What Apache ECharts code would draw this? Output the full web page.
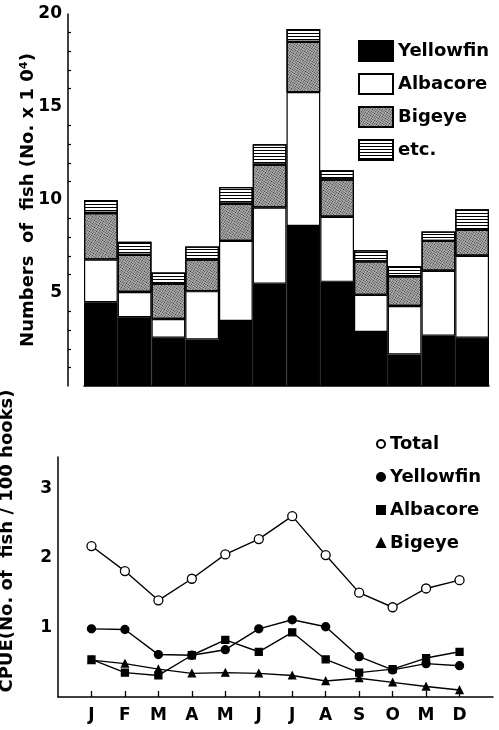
<!DOCTYPE html>
<html>
<head>
<meta charset="utf-8">
<script src="https://cdn.jsdelivr.net/npm/echarts@6/dist/echarts.min.js"></script>
<style>
  html, body { margin: 0; padding: 0; background: #fff; }
  #chart { width: 499px; height: 730px; }
</style>
</head>
<body>
<div id="chart"></div>
<script>
  // monthly catch (x10^4 fish), stacked
  var months = ["J", "F", "M", "A", "M", "J", "J", "A", "S", "O", "M", "D"];
  var yellowfin = [4.5, 3.7, 2.6, 2.5, 3.5, 5.5, 8.6, 5.6, 2.9, 1.7, 2.7, 2.6];
  var albacore = [2.3, 1.35, 1.0, 2.6, 4.3, 4.1, 7.2, 3.5, 2.0, 2.6, 3.5, 4.4];
  var bigeye = [2.5, 2.0, 1.9, 1.7, 2.0, 2.3, 2.7, 2.0, 1.8, 1.6, 1.6, 1.4];
  var etc = [0.7, 0.7, 0.6, 0.7, 0.9, 1.1, 0.7, 0.5, 0.6, 0.55, 0.5, 1.1];

  // CPUE (fish / 100 hooks)
  var cpueTotal = [2.17, 1.81, 1.39, 1.70, 2.05, 2.27, 2.60, 2.04, 1.50, 1.29, 1.56, 1.68];
  var cpueYellowfin = [0.98, 0.97, 0.61, 0.60, 0.68, 0.98, 1.11, 1.01, 0.58, 0.39, 0.48, 0.45];
  var cpueAlbacore = [0.54, 0.35, 0.31, 0.60, 0.82, 0.65, 0.93, 0.54, 0.35, 0.40, 0.56, 0.65];
  var cpueBigeye = [0.53, 0.48, 0.40, 0.34, 0.35, 0.34, 0.31, 0.23, 0.27, 0.21, 0.15, 0.10];

  var font = "DejaVu Sans";
  // bottom axis gets an empty slot at each end so J sits one step in from the axis
  var padded = function (a) { return [null].concat(a).concat([null]); };
  var lineMonths = [""].concat(months).concat([""]);

  var chart = echarts.init(document.getElementById("chart"));

  var barStyle = function (color, decal) {
    var s = { color: color, borderColor: "#000", borderWidth: 1.2 };
    if (decal) s.decal = decal;
    return s;
  };

  var lineSeries = function (name, data, symbol, size, fill) {
    return {
      name: name,
      type: "line",
      xAxisIndex: 1,
      yAxisIndex: 1,
      data: padded(data),
      symbol: symbol,
      symbolSize: size,
      showAllSymbol: true,
      lineStyle: { color: "#000", width: 1.4 },
      itemStyle: { color: fill, borderColor: "#000", borderWidth: 1.3 },
      z: fill === "#fff" ? 3 : 2
    };
  };

  var legendText = { fontFamily: font, fontWeight: "bold", fontSize: 18, color: "#000" };

  var option = {
    backgroundColor: "#fff",
    animation: false,
    textStyle: { fontFamily: font, fontWeight: "bold", color: "#000" },
    legend: [
      {
        orient: "vertical",
        left: 358,
        top: 40,
        padding: 0,
        itemWidth: 34,
        itemHeight: 20,
        itemGap: 11,
        icon: "rect",
        selectedMode: false,
        textStyle: legendText,
        data: ["Yellowfin", "Albacore", "Bigeye", "etc."]
      },
      {
        orient: "vertical",
        left: 376,
        top: 435,
        padding: 0,
        itemWidth: 8,
        itemHeight: 8,
        itemGap: 15,
        selectedMode: false,
        textStyle: legendText,
        data: [
          { name: "Total", icon: "circle" },
          { name: "Yellowfin ", icon: "circle" },
          { name: "Albacore ", icon: "rect" },
          { name: "Bigeye ", icon: "triangle" }
        ]
      }
    ],
    grid: [
      { left: 84, right: 10, top: 14, bottom: 344, outerBoundsMode: "none" },
      { left: 58, right: 6, top: 457, bottom: 33, outerBoundsMode: "none" }
    ],
    xAxis: [
      {
        type: "category",
        gridIndex: 0,
        data: months,
        boundaryGap: true,
        axisLine: { lineStyle: { color: "#000", width: 1.5 } },
        axisTick: { show: false },
        axisLabel: { show: false }
      },
      {
        type: "category",
        gridIndex: 1,
        data: lineMonths,
        boundaryGap: false,
        axisLine: { lineStyle: { color: "#000", width: 1.5 } },
        axisTick: {
          inside: true,
          length: 6,
          lineStyle: { color: "#000", width: 1.3 },
          interval: function (i, v) { return v !== ""; }
        },
        axisLabel: {
          interval: 0,
          margin: 10,
          fontFamily: font,
          fontWeight: "bold",
          fontSize: 17,
          color: "#000"
        }
      }
    ],
    yAxis: [
      {
        type: "value",
        gridIndex: 0,
        min: 0,
        max: 20,
        interval: 5,
        offset: 16,
        name: "Numbers  of  fish (No. x 1 0⁴)",
        nameLocation: "middle",
        nameGap: 31,
        nameMoveOverlap: false,
        nameTextStyle: { fontFamily: font, fontWeight: "bold", fontSize: 18, color: "#000" },
        splitLine: { show: false },
        axisLine: { show: true, lineStyle: { color: "#000", width: 1.5 } },
        axisTick: { inside: true, length: 7, lineStyle: { color: "#000", width: 1.3 } },
        minorTick: { show: true, splitNumber: 5, length: 3, lineStyle: { color: "#000", width: 1.2 } },
        axisLabel: {
          margin: 6,
          fontFamily: font,
          fontWeight: "bold",
          fontSize: 17,
          color: "#000",
          formatter: function (v) { return v === 0 ? "" : v; }
        }
      },
      {
        type: "value",
        gridIndex: 1,
        min: 0,
        max: 3.45,
        interval: 1,
        name: "CPUE(No. of  fish / 100 hooks)",
        nameLocation: "middle",
        nameGap: 42,
        nameTextStyle: {
          fontFamily: font,
          fontWeight: "bold",
          fontSize: 18,
          color: "#000",
          padding: [0, 0, 0, 72]
        },
        splitLine: { show: false },
        axisLine: { show: true, lineStyle: { color: "#000", width: 1.5 } },
        axisTick: { inside: true, length: 6, lineStyle: { color: "#000", width: 1.3 } },
        axisLabel: {
          margin: 6,
          fontFamily: font,
          fontWeight: "bold",
          fontSize: 17,
          color: "#000",
          formatter: function (v) { return v === 0 || v > 3 ? "" : v; }
        }
      }
    ],
    series: [
      {
        name: "Yellowfin",
        type: "bar",
        stack: "fish",
        barWidth: "100%",
        data: yellowfin,
        itemStyle: barStyle("#000")
      },
      {
        name: "Albacore",
        type: "bar",
        stack: "fish",
        data: albacore,
        itemStyle: barStyle("#fff")
      },
      {
        name: "Bigeye",
        type: "bar",
        stack: "fish",
        data: bigeye,
        itemStyle: barStyle("#b0b0b0", {
          symbol: "rect",
          symbolSize: 1,
          color: "#2a2a2a",
          dashArrayX: [1, 1],
          dashArrayY: [1, 1],
          rotation: 0.6
        })
      },
      {
        name: "etc.",
        type: "bar",
        stack: "fish",
        data: etc,
        itemStyle: barStyle("#fff", {
          symbol: "rect",
          symbolSize: 1,
          color: "#000",
          dashArrayX: [1, 0],
          dashArrayY: [1, 2],
          rotation: 0
        })
      },
      lineSeries("Total", cpueTotal, "circle", 9, "#fff"),
      lineSeries("Yellowfin ", cpueYellowfin, "circle", 8, "#000"),
      lineSeries("Albacore ", cpueAlbacore, "rect", 7, "#000"),
      lineSeries("Bigeye ", cpueBigeye, "triangle", 7, "#000")
    ]
  };

  chart.setOption(option);
</script>
</body>
</html>
